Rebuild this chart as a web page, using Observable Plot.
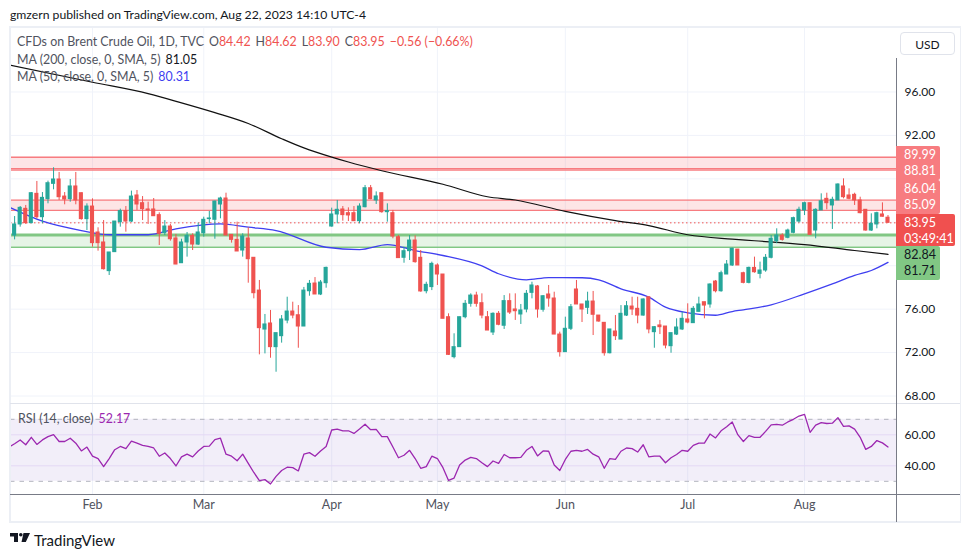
<!DOCTYPE html>
<html><head><meta charset="utf-8">
<script src="https://cdn.jsdelivr.net/npm/d3@7"></script>
<script src="https://cdn.jsdelivr.net/npm/@observablehq/plot@0.6"></script>
<style>
html,body{margin:0;padding:0;background:#fff}
body{width:970px;height:557px;overflow:hidden;position:relative;font-family:Lato,"Open Sans",sans-serif;color:#131722}
.abs{position:absolute}
.leg{position:absolute;left:17px;font-size:12.4px;line-height:17px;color:#50535e;white-space:nowrap}
.lbl{position:absolute;left:896px;font-size:12.5px;box-sizing:border-box;padding-left:8px;border-radius:0 2px 2px 0}
.lbl div{height:16.5px;line-height:16.5px}
</style></head><body>
<div id="root"></div>
<script>
// ---------------- data ----------------
const startDate = "2023-01-11";
const holidays = ["2023-04-07"];
const openP = [79.6,82.78,83.80,85.24,83.92,86.62,84.47,86.13,87.54,87.94,
86.37,86.13,87.30,86.68,84.29,85.45,83.06,82.14,79.50,81.25,
84.01,85.03,84.07,86.47,85.76,85.18,85.18,84.66,83.00,83.61,
82.51,80.23,82.14,82.75,81.95,82.99,84.29,84.23,85.64,86.19,
82.84,82.38,81.40,82.51,80.73,77.71,74.12,74.68,72.50,73.51,
74.95,75.78,75.44,74.40,77.65,78.36,77.35,78.39,83.61,84.72,
85.18,84.84,84.84,84.10,85.39,87.14,86.01,86.68,84.93,84.84,
82.63,80.73,81.34,82.32,80.73,77.65,78.03,80.02,79.19,75.26,
71.58,72.50,75.26,76.49,77.25,76.55,75.26,73.85,75.57,74.47,
76.74,75.97,75.51,75.97,77.50,78.09,75.94,77.35,76.98,73.66,
72.04,74.19,77.81,76.43,76.12,76.70,75.41,74.74,71.94,73.94,
73.20,75.41,76.24,76.03,75.41,77.10,73.88,74.50,74.40,72.59,
73.66,74.13,75.05,74.71,75.75,76.64,76.43,78.54,77.65,79.19,
80.02,81.49,79.31,78.42,79.80,79.25,79.56,80.73,82.26,82.78,
82.57,83.03,84.07,85.09,85.76,83.24,85.09,86.16,85.55,86.01,
87.30,86.47,86.53,86.01,85.15,83.24,83.80,84.72,84.42];
const highP = [83.0,84.53,85.45,85.55,86.74,87.76,86.74,87.79,89.02,88.59,
86.74,87.94,88.59,86.70,85.70,86.16,83.49,84.16,81.22,84.07,
85.21,85.45,86.87,86.93,86.37,85.85,86.19,84.87,84.16,83.80,
82.88,82.44,83.06,82.94,83.92,84.47,85.00,85.95,86.31,86.68,
82.84,84.01,82.94,83.49,80.73,78.64,75.51,75.88,73.79,75.41,
77.10,76.64,76.33,78.00,78.64,78.91,78.64,79.87,85.30,86.01,
85.45,85.33,85.45,85.70,87.39,87.39,86.80,86.68,85.70,85.09,
82.78,81.71,82.78,82.75,81.40,78.48,80.33,80.17,79.19,75.57,
73.73,75.26,76.80,77.41,77.56,77.41,75.78,75.66,75.78,77.25,
77.41,77.41,76.43,77.72,78.48,78.18,77.25,78.18,77.56,73.88,
75.26,76.43,78.64,76.43,77.56,77.63,75.41,74.74,74.13,75.41,
76.33,76.70,77.10,77.10,76.95,77.10,74.40,74.96,74.40,73.79,
75.11,75.72,76.49,76.24,77.10,76.64,78.33,78.64,79.50,80.48,
81.62,81.49,79.40,79.87,80.79,80.33,81.03,82.78,83.40,82.94,
83.37,84.47,85.39,85.85,85.76,85.24,86.62,86.68,86.31,87.54,
88.00,87.08,86.68,86.31,85.15,84.78,84.93,85.79,84.62];
const lowP = [79.4,82.38,83.55,83.80,83.86,84.32,83.86,85.70,86.99,86.01,
85.61,85.85,85.61,84.20,83.24,81.71,81.34,79.60,79.10,81.25,
83.55,83.09,83.98,85.09,84.16,83.80,84.56,81.86,82.78,82.26,
80.10,80.23,80.79,81.40,81.86,82.63,83.86,82.44,84.32,82.78,
82.08,81.31,80.79,78.39,76.95,71.79,71.88,71.48,70.19,72.87,
74.65,75.11,72.40,74.40,77.19,77.35,77.25,77.93,83.55,83.86,
84.10,84.07,84.10,83.86,85.33,86.07,85.64,84.84,84.01,82.48,
80.70,80.23,80.48,80.23,77.56,77.41,77.71,78.18,75.11,71.73,
71.42,72.50,75.11,76.18,76.18,75.11,74.03,73.57,74.47,74.13,
75.51,74.96,74.59,75.66,76.95,75.17,75.72,76.18,73.66,71.58,
72.04,74.03,76.43,74.77,75.51,73.57,74.80,71.67,71.88,73.11,
73.20,75.32,75.41,74.65,75.35,73.73,72.40,73.66,72.34,71.94,
73.57,74.03,74.65,74.71,75.72,75.11,76.09,77.50,77.56,79.19,
79.93,80.02,78.33,78.33,79.31,78.79,79.40,80.63,82.02,82.26,
82.48,82.94,83.92,84.62,82.84,82.48,85.09,85.15,83.34,86.01,
86.16,86.07,85.55,84.78,83.18,83.15,83.40,84.47,83.90];
const closeP = [82.7,83.80,85.33,83.92,86.68,84.47,86.25,87.60,87.94,86.31,
86.10,87.30,86.01,84.29,85.45,82.08,82.08,79.68,81.22,84.07,
85.03,84.07,86.37,85.64,85.21,85.09,84.56,82.94,83.61,82.44,
80.11,82.14,82.75,81.95,83.06,84.23,84.35,85.91,86.19,82.78,
82.38,81.31,82.69,80.60,77.47,74.25,74.59,72.50,73.79,75.05,
75.78,75.41,74.40,77.71,78.33,77.35,78.45,79.80,84.72,85.15,
84.66,84.63,84.10,85.45,87.14,86.13,86.38,84.93,85.03,82.69,
80.70,81.34,82.32,80.33,77.63,78.24,80.17,79.19,75.11,71.79,
72.50,75.26,76.49,77.25,76.49,75.41,74.03,75.57,74.56,76.74,
75.69,75.81,75.88,77.41,78.18,75.97,77.19,76.98,73.66,72.04,
74.19,76.18,76.43,75.97,76.70,75.48,74.86,71.94,74.13,73.51,
75.57,76.27,75.97,75.41,76.89,74.13,74.34,74.34,72.65,73.79,
74.31,75.11,74.77,76.03,76.43,76.33,78.27,77.65,79.31,80.11,
81.56,80.02,78.42,79.80,79.40,79.56,80.73,82.48,82.78,82.38,
83.24,84.38,85.15,85.76,82.84,85.15,85.94,85.76,86.07,87.48,
86.31,86.16,86.01,84.84,83.24,83.86,84.84,84.51,83.95];
const rsiValues = [52.1,54.2,56.7,53.6,58.4,53.8,56.7,58.8,60.1,55.7,
55.7,57.8,54.6,49.6,52.1,46.2,44.7,39.5,44.7,50.4,
52.5,51.1,55.9,54.6,53.2,52.5,51.5,46.2,48.3,44.7,
39.9,45.8,47.5,45.8,49.6,52.5,52.7,56.9,57.8,47.5,
46.2,43.3,47.5,41.6,35.7,30.4,31.1,28.3,33.2,37.0,
39.1,38.8,36.7,47.5,48.5,46.2,49.6,52.5,63.1,63.7,
62.6,62.6,60.9,63.7,66.8,63.3,63.5,58.8,58.8,52.1,
45.2,46.8,50.0,44.7,38.4,39.5,46.2,44.7,38.8,30.6,
32.1,40.5,43.7,45.4,44.7,42.0,39.5,43.1,41.6,47.3,
45.2,45.2,45.4,50.0,52.5,46.4,49.6,49.4,40.5,37.0,
44.1,49.4,50.0,49.4,50.6,47.5,45.8,38.4,44.7,44.1,
49.4,51.5,51.1,48.9,53.6,45.8,46.2,46.2,42.0,45.2,
47.3,50.0,49.4,53.2,54.6,54.6,60.5,58.0,62.6,65.2,
68.3,60.1,55.7,59.5,58.4,58.4,62.2,66.4,66.8,66.2,
68.3,70.0,72.1,73.2,61.6,66.2,67.9,67.3,67.5,71.1,
65.4,65.8,63.7,58.4,50.6,52.5,56.3,54.8,52.17];
const ma200Index = [0,15,25,31,37,43,49,53,58,61,67,78,86,91,100,109,115,122,130,134,143,152,158];
const ma200Values = [98.5,96.9,95.85,95.0,94.1,93.1,91.7,90.85,90.0,89.55,88.75,87.5,86.35,86.05,85.0,84.15,83.7,82.85,82.45,82.3,81.95,81.4,81.05];
const ma50Index = [0,6,13,18,25,30,38,43,48,57,63,68,73,78,85,88,93,97,103,106,110,115,118,122,127,130,132,137,143,148,152,155,158];
const ma50Values = [85.4,84.1,83.24,82.85,82.85,83.4,83.86,83.55,83.24,81.7,81.49,81.95,81.4,80.94,79.98,79.26,78.7,78.91,78.89,78.7,77.87,77.1,76.18,75.66,75.44,75.78,75.94,76.4,77.41,78.33,79.1,79.56,80.31];
const resistZones = [[88.81, 89.99], [85.09, 86.04]];
const resistLines = [89.99, 88.93, 88.81, 86.04, 85.09];
const supportZone = [81.71, 82.84];
const priceTicks = [68, 72, 76, 80, 84, 88, 92, 96];
const rsiTicks = [40, 60];
const rsiBand = [30, 70];
const countdown = "03:49:41";
const monthNames = ["Jan","Feb","Mar","Apr","May","Jun","Jul","Aug","Sep","Oct","Nov","Dec"];

// ---------------- derived tables ----------------
const dates = [];
{
  let d = new Date(startDate + "T00:00:00Z");
  while (dates.length < openP.length) {
    const iso = d.toISOString().slice(0, 10);
    const wd = d.getUTCDay();
    if (wd !== 0 && wd !== 6 && !holidays.includes(iso)) dates.push(new Date(d));
    d = new Date(d.getTime() + 86400000);
  }
}
const bars = openP.map((o, i) => ({i, date: dates[i], o, h: highP[i], l: lowP[i], c: closeP[i]}));
const monthTicks = bars.filter((b, i) => i > 0 && b.date.getUTCMonth() !== bars[i - 1].date.getUTCMonth())
  .map(b => ({i: b.i, label: monthNames[b.date.getUTCMonth()]}));
const rsiRows = rsiValues.map((v, i) => ({i, v}));
const ma200 = ma200Index.map((i, k) => ({i, v: ma200Values[k]}));
const ma50 = ma50Index.map((i, k) => ({i, v: ma50Values[k]}));
const last = bars[bars.length - 1];
const prevClose = closeP[closeP.length - 2];

// ---------------- styling ----------------
const FONT = 'Lato, "Open Sans", sans-serif';
const UP = "#26a69a", DOWN = "#ef5350";
const GRID = "#f0f3fa";
const xDomain = [0.26, 159.53];
const priceDomain = [67.31, 101.94];
const colorOf = d => d.c >= d.o ? UP : DOWN;
const root = document.getElementById("root");
const PTOP = 27;

function makePrice(labelTicks) {
  return Plot.plot({
    width: 950, height: 376, marginLeft: 0, marginRight: 64, marginTop: 0, marginBottom: 0,
    x: {domain: xDomain, axis: null},
    y: {domain: priceDomain, axis: null},
    color: {type: "identity"},
    style: {fontFamily: FONT, fontSize: "12px", color: "#131722", background: "transparent", overflow: "visible"},
    marks: [
      Plot.ruleX(monthTicks, {x: "i", stroke: GRID}),
      Plot.ruleY(priceTicks, {stroke: GRID}),
      Plot.rect(resistZones, {y1: d => d[0], y2: d => d[1], fill: "#f77c80", fillOpacity: 0.2}),
      Plot.rect([supportZone], {y1: d => d[0], y2: d => d[1], fill: "#81c784", fillOpacity: 0.2}),
      Plot.ruleY(resistLines, {stroke: "#f77c80", strokeWidth: 1.3}),
      Plot.ruleY([supportZone[1]], {stroke: "#81c784", strokeWidth: 3}),
      Plot.ruleY([supportZone[0]], {stroke: "#81c784", strokeWidth: 1.5}),
      Plot.ruleY([last.c], {stroke: DOWN, strokeWidth: 1, strokeDasharray: "1.5,2.5"}),
      Plot.line(ma200, {x: "i", y: "v", stroke: "#111", strokeWidth: 1.2, curve: "monotone-x", clip: true}),
      Plot.line(ma50, {x: "i", y: "v", stroke: "#3f3ff0", strokeWidth: 1.3, curve: "monotone-x", clip: true}),
      Plot.ruleX(bars, {x: "i", y1: "l", y2: "h", stroke: colorOf, strokeWidth: 1, clip: true}),
      Plot.rect(bars, {x1: d => d.i - 0.37, x2: d => d.i + 0.37, y1: "o", y2: "c", fill: colorOf,
        insetTop: -0.5, insetBottom: -0.5, clip: true}),
      Plot.text(labelTicks, {y: d => d, text: d => d.toFixed(2), frameAnchor: "right", dx: 8,
        textAnchor: "start", fill: "#131722", fontSize: 12})
    ]
  });
}

// first pass: scale for the label layout
const ys = makePrice([]).scale("y");
const py = v => PTOP + ys.apply(v);
const curTop = py(last.c) - 8;
const curH = 32;
function pairTop(a, b, place) {
  let top = (py(a) + py(b)) / 2 - 17;
  if (place === "above" && top + 34 > curTop) top = curTop - 34;
  if (place === "below" && top < curTop + curH) top = curTop + curH;
  return top;
}
const boxes = [
  {vals: [resistZones[0][1], resistZones[0][0]], top: pairTop(resistZones[0][1], resistZones[0][0], "above"), h: 34, w: 44, bg: "#f77c80", fg: "#fff"},
  {vals: [resistZones[1][1], resistZones[1][0]], top: pairTop(resistZones[1][1], resistZones[1][0], "above"), h: 34, w: 44, bg: "#f77c80", fg: "#fff"},
  {vals: [supportZone[1], supportZone[0]], top: pairTop(supportZone[1], supportZone[0], "below"), h: 34, w: 44, bg: "#81c784", fg: "#131722"},
  {vals: [last.c.toFixed(2), countdown], top: curTop, h: curH, w: 59, bg: "#f0504f", fg: "#fff"}
];
const visibleTicks = priceTicks.filter(t => {
  const y = py(t);
  return !boxes.some(b => y + 7 > b.top && y - 7 < b.top + b.h);
});

const price = makePrice(visibleTicks);
price.style.position = "absolute"; price.style.left = "10px"; price.style.top = PTOP + "px";
root.appendChild(price);

const rsi = Plot.plot({
  width: 950, height: 119, marginLeft: 0, marginRight: 64, marginTop: 0, marginBottom: 28,
  x: {domain: xDomain, axis: null},
  y: {domain: [21.5, 80.2], axis: null},
  style: {fontFamily: FONT, fontSize: "12px", color: "#131722", background: "transparent", overflow: "visible"},
  marks: [
    Plot.ruleX(monthTicks, {x: "i", stroke: GRID}),
    Plot.rect([rsiBand], {y1: d => d[0], y2: d => d[1], fill: "#7e57c2", fillOpacity: 0.1}),
    Plot.ruleY(rsiTicks, {stroke: "#e4d8f5"}),
    Plot.ruleY(rsiBand, {stroke: "#b2b5be", strokeDasharray: "4.5,5"}),
    Plot.line(rsiRows, {x: "i", y: "v", stroke: "#9c27b0", strokeWidth: 1.3, clip: true}),
    Plot.text(rsiTicks, {y: d => d, text: d => d.toFixed(2), frameAnchor: "right", dx: 8,
      textAnchor: "start", fill: "#131722", fontSize: 12}),
    Plot.text(monthTicks, {x: "i", text: "label", frameAnchor: "bottom", dy: 14,
      fill: "#50535e", fontSize: 12.5})
  ]
});
rsi.style.position = "absolute"; rsi.style.left = "10px"; rsi.style.top = "403px";
root.appendChild(rsi);

// ---------------- frame lines ----------------
function line(l, t, w, h, c) {
  const e = document.createElement("div");
  e.className = "abs";
  Object.assign(e.style, {left: l + "px", top: t + "px", width: w + "px", height: h + "px", background: c});
  root.appendChild(e);
}
line(9, 26, 952, 1.5, "#eceff5");
line(9, 521, 952, 2, "#eceff5");
line(9, 26, 1.5, 497, "#eceff5");
line(959.5, 26, 1.5, 497, "#eceff5");
line(10, 403, 950, 1, "#e0e3eb");
line(10, 494, 950, 1, "#787b86");
line(896, 58, 1, 464, "#787b86");

// ---------------- texts ----------------
function html(l, t, s, cls, style) {
  const e = document.createElement("div");
  e.className = cls || "abs";
  e.innerHTML = s;
  e.style.left = l + "px"; e.style.top = t + "px";
  if (style) Object.assign(e.style, style);
  root.appendChild(e);
  return e;
}
html(10, 6, "gmzern published on TradingView.com, Aug 22, 2023 14:10 UTC-4", "abs",
  {fontSize: "12.2px", lineHeight: "18px", color: "#131722"});
const R = v => `<span style="color:${DOWN}">${v}</span>`;
const chg = last.c - prevClose;
const fmtS = v => (v < 0 ? "\u2212" : "+") + Math.abs(v).toFixed(2);
const G = '<span style="display:inline-block;width:5px"></span>';
html(17, 33, `CFDs on Brent Crude Oil, 1D, TVC${G}O${R(last.o.toFixed(2))}${G}H${R(last.h.toFixed(2))}${G}L${R(last.l.toFixed(2))}${G}C${R(last.c.toFixed(2))}${G}${R(fmtS(chg) + " (" + fmtS(chg / prevClose * 100) + "%)")}`, "leg");
html(17, 50.5, `MA (200, close, 0, SMA, 5)${G}<span style="color:#131722">${ma200Values[ma200Values.length - 1].toFixed(2)}</span>`, "leg");
html(17, 67.5, `MA (50, close, 0, SMA, 5)${G}<span style="color:#3f3ff0">${ma50Values[ma50Values.length - 1].toFixed(2)}</span>`, "leg");
html(18, 409.5, `RSI (14, close)${G}<span style="color:#9c27b0">${rsiValues[rsiValues.length - 1].toFixed(2)}</span>`, "leg");

html(900, 31.5, "USD", "abs", {width: "55px", height: "23px", lineHeight: "23px", textAlign: "center",
  fontSize: "12px", border: "1px solid #e0e3eb", borderRadius: "4px", boxSizing: "border-box", background: "#fff"});

// ---------------- price-axis labels ----------------
for (const b of boxes) {
  html(896, b.top, `<div>${typeof b.vals[0] === "number" ? b.vals[0].toFixed(2) : b.vals[0]}</div><div>${typeof b.vals[1] === "number" ? b.vals[1].toFixed(2) : b.vals[1]}</div>`, "lbl",
    {width: b.w + "px", height: b.h + "px", paddingTop: "0.5px", background: b.bg, color: b.fg});
}

// ---------------- TradingView footer ----------------
html(10, 533, `<svg width="20" height="10" viewBox="0 0 20 10"><path d="M0 0H8V9H4V3.5H0Z" fill="#131722"/><circle cx="10.8" cy="1.8" r="1.8" fill="#131722"/><path d="M13.5 0H20L15.8 9H11.5Z" fill="#131722"/></svg>`, "abs", {lineHeight: "0"});
html(34, 531, "TradingView", "abs", {fontSize: "15px", lineHeight: "18px", color: "#131722"});
</script></body></html>
